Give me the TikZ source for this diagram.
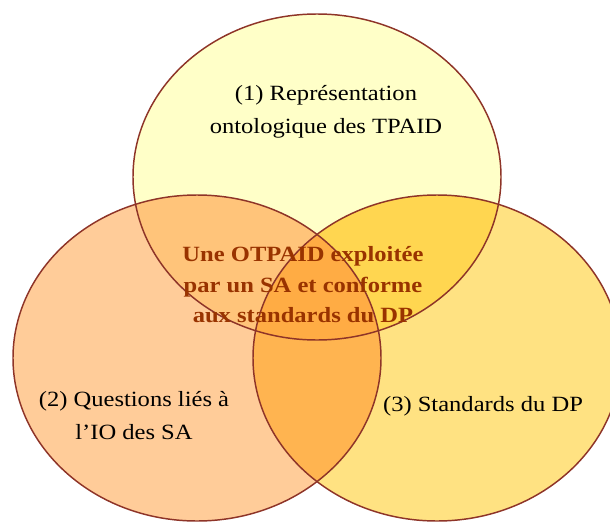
\documentclass[tikz,border=0pt]{standalone}
\usepackage{fontspec}
\setmainfont[FakeStretch=1.13]{Liberation Serif}
\definecolor{cone}{HTML}{FFFFC8}
\definecolor{ctwo}{HTML}{FFCC99}
\definecolor{cthree}{HTML}{FFE282}
\definecolor{conetwo}{HTML}{FFC47A}
\definecolor{conethree}{HTML}{FFD650}
\definecolor{ctwothree}{HTML}{FFB450}
\definecolor{call}{HTML}{FFAC44}
\definecolor{edgecol}{HTML}{8E3428}
\definecolor{boldtxt}{HTML}{993300}
\begin{document}
\begin{tikzpicture}[x=0.75pt,y=-0.75pt,
  outline/.style={draw=edgecol,line width=1.1pt},
  lab/.style={inner sep=0pt,align=center,text=black,font=\fontsize{16.3}{24.75}\selectfont},
  central/.style={inner sep=0pt,align=center,text=boldtxt,font=\bfseries\fontsize{16.3}{22.9}\selectfont}]
\useasboundingbox (0,0) rectangle (610,521);
\def\cA{(317,177) ellipse [x radius=138pt, y radius=122.25pt]}
\def\cB{(197,358) ellipse [x radius=138pt, y radius=122.25pt]}
\def\cC{(437,358) ellipse [x radius=138pt, y radius=122.25pt]}
\fill[cone] \cA;
\fill[ctwo] \cB;
\fill[cthree] \cC;
\begin{scope}\clip \cA; \fill[conetwo] \cB; \end{scope}
\begin{scope}\clip \cA; \fill[conethree] \cC; \end{scope}
\begin{scope}\clip \cB; \fill[ctwothree] \cC; \end{scope}
\begin{scope}\clip \cA; \clip \cB; \fill[call] \cC; \end{scope}
\draw[outline] \cA;
\draw[outline] \cB;
\draw[outline] \cC;
\node[lab] (one) at (326,112) {(1) Représentation\\ontologique des TPAID};
\node[lab] (two) at (134,416) {(2) Questions liés à\\l’IO des SA};
\node[lab] (three) at (483,406) {(3) Standards du DP};
\node[central] (mid) at (303,285) {Une OTPAID exploitée\\par un SA et conforme\\aux standards du DP};
\end{tikzpicture}
\end{document}
